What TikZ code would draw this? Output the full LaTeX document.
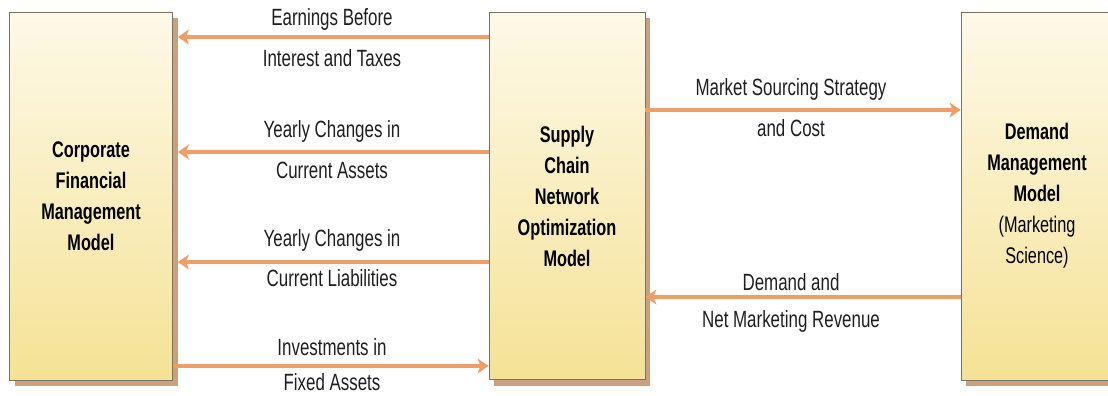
\documentclass[tikz,border=0pt]{standalone}
\usepackage{fontspec}
\setmainfont{Liberation Sans}[FakeStretch=0.72]
\usetikzlibrary{arrows.meta,shadows}
\definecolor{arr}{RGB}{240,158,104}
\definecolor{topc}{RGB}{253,249,232}
\definecolor{botc}{RGB}{245,226,150}
\definecolor{shad}{RGB}{200,160,130}
\definecolor{edge}{RGB}{120,115,100}
\begin{document}
\begin{tikzpicture}[x=1pt,y=-1pt,
  modelbox/.style={draw=edge, line width=0.8pt, top color=topc, bottom color=botc,
    drop shadow={shadow xshift=5pt, shadow yshift=-6pt, fill=shad, opacity=1},
    align=center, font=\fontsize{22.6}{31}\selectfont, inner sep=0pt},
  flow/.style={draw=arr, line width=3.5pt, -{Stealth[length=11pt,width=15pt,inset=3pt]}},
  lbl/.style={font=\fontsize{23.5}{26}\selectfont, text=black!88, inner sep=0pt}]
\useasboundingbox (0,0) rectangle (1108,396);
\node[modelbox, minimum width=163pt, minimum height=368pt] (L) at (91,196)
  {\textbf{Corporate}\\\textbf{Financial}\\\textbf{Management}\\\textbf{Model}};
\node[modelbox, minimum width=156pt, minimum height=367pt] (M) at (567,196)
  {\textbf{Supply}\\\textbf{Chain}\\\textbf{Network}\\\textbf{Optimization}\\\textbf{Model}};
\node[modelbox, minimum width=152pt, minimum height=368pt] (R) at (1037,196)
  {\textbf{Demand}\\\textbf{Management}\\\textbf{Model}\\(Marketing\\Science)};
% connector anchors
\coordinate (m1) at (M.west |- 0,37);
\coordinate (l1) at (L.east |- 0,37);
\coordinate (m2) at (M.west |- 0,152);
\coordinate (l2) at (L.east |- 0,152);
\coordinate (m3) at (M.west |- 0,262);
\coordinate (l3) at (L.east |- 0,262);
\coordinate (m4) at (M.west |- 0,366);
\coordinate (l4) at (L.east |- 0,366);
\coordinate (m5) at (M.east |- 0,110);
\coordinate (r5) at (R.west |- 0,110);
\coordinate (m6) at (M.east |- 0,297);
\coordinate (r6) at (R.west |- 0,297);
\draw[flow] (m1) -- ([xshift=5pt]l1);
\draw[flow] (m2) -- ([xshift=5pt]l2);
\draw[flow] (m3) -- ([xshift=5pt]l3);
\draw[flow] (l4) -- (m4);
\draw[flow] (m5) -- (r5);
\draw[flow] (r6) -- (m6);
% labels
\node[lbl] (t1a) at (332,19) {Earnings Before};
\node[lbl] (t1b) at (332,58) {Interest and Taxes};
\node[lbl] (t2a) at (332,131) {Yearly Changes in};
\node[lbl] (t2b) at (332,170) {Current Assets};
\node[lbl] (t3a) at (332,240) {Yearly Changes in};
\node[lbl] (t3b) at (332,278) {Current Liabilities};
\node[lbl] (t4a) at (332,347) {Investments in};
\node[lbl] (t4b) at (332,382) {Fixed Assets};
\node[lbl] (t5a) at (791,89) {Market Sourcing Strategy};
\node[lbl] (t5b) at (791,128) {and Cost};
\node[lbl] (t6a) at (791,282) {Demand and};
\node[lbl] (t6b) at (791,321) {Net Marketing Revenue};
\end{tikzpicture}
\end{document}
